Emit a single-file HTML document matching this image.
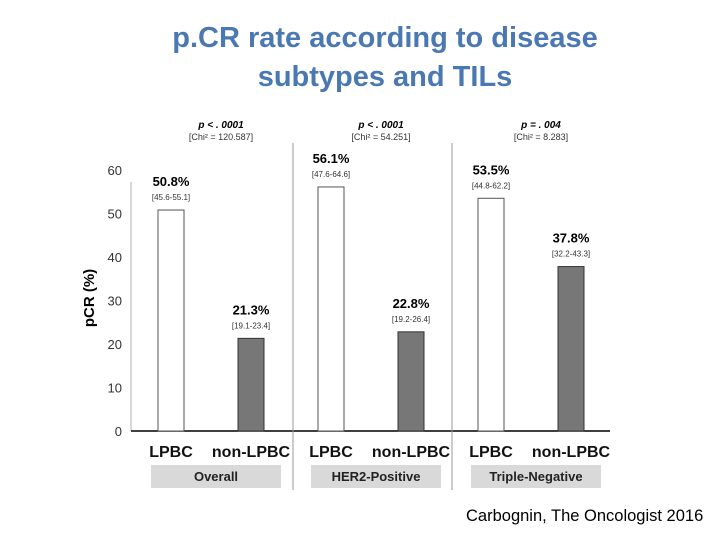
<!DOCTYPE html>
<html><head><meta charset="utf-8"><style>
body{margin:0;background:#fff;width:720px;height:540px;overflow:hidden;font-family:"Liberation Sans",sans-serif}
.t{position:absolute;left:0;width:770px;text-align:center;color:#4a78b2;font-size:29px;font-weight:bold;font-family:"Liberation Sans",sans-serif}
</style></head><body>
<div class="t" style="top:22px">p.CR rate according to disease<br><span style="line-height:44px">subtypes and TILs</span></div>
<svg id="c" width="720" height="540" style="position:absolute;left:0;top:0"></svg>
<div style="position:absolute;left:466px;top:507px;font-size:16.5px;color:#000">Carbognin, The Oncologist 2016</div>
<script>
const groups=["Overall","HER2-Positive","Triple-Negative"];
const cats=["LPBC","non-LPBC"];
const values=[50.8,21.3,56.1,22.8,53.5,37.8];
const cis=["[45.6-55.1]","[19.1-23.4]","[47.6-64.6]","[19.2-26.4]","[44.8-62.2]","[32.2-43.3]"];
const pvals=["p < . 0001","p < . 0001","p = . 004"];
const chis=["[Chi² = 120.587]","[Chi² = 54.251]","[Chi² = 8.283]"];
const yTicks=[0,10,20,30,40,50,60];
const svg=document.getElementById('c');const NS='http://www.w3.org/2000/svg';
function mk(t,a,txt){const e=document.createElementNS(NS,t);for(const k in a)e.setAttribute(k,a[k]);if(txt!=null)e.textContent=txt;svg.appendChild(e);return e;}
const y=v=>431-v*4.35;
const barX=i=>158+i*80;
let e=mk('line',{x1:131,y1:y(60)+12,x2:131,y2:431,stroke:'#ccc','stroke-width':1.5});

e=mk('line',{x1:131,y1:431,x2:610,y2:431,stroke:'#000','stroke-width':1.5});

yTicks.forEach(t=>{e=mk('text',{x:122,y:y(t)+5,'text-anchor':'end','font-size':13,fill:'#333'},t);
});
e=mk('text',{x:0,y:0,transform:'translate(94,298) rotate(-90)','text-anchor':'middle','font-size':15,'font-weight':'bold'},'pCR (%)');

[293,452].forEach(x=>{e=mk('line',{x1:x,y1:143,x2:x,y2:490,stroke:'#999','stroke-width':1});
});
values.forEach((v,i)=>{const x=barX(i),lp=i%2==0;
e=mk('rect',{x:x,y:y(v),width:26,height:431-y(v),fill:lp?'#fff':'#777',stroke:lp?'#555':'#333','stroke-width':1});

e=mk('text',{x:x+13,y:y(v)-24,'text-anchor':'middle','font-size':13,'font-weight':'bold'},v.toFixed(1)+'%');

e=mk('text',{x:x+13,y:y(v)-10,'text-anchor':'middle','font-size':8,fill:'#333'},cis[i]);

e=mk('text',{x:x+13,y:457,'text-anchor':'middle','font-size':16,'font-weight':'bold','fill':'#111'},cats[i%2]);
});
groups.forEach((g,j)=>{const cx=222+j*160;
e=mk('rect',{x:cx-71,y:465,width:130,height:23,fill:'#d9d9d9'});

e=mk('text',{x:cx-6,y:481,'text-anchor':'middle','font-size':13,'font-weight':'bold','fill':'#222'},g);

e=mk('text',{x:cx-1,y:128,'text-anchor':'middle','font-size':10,'font-weight':'bold','font-style':'italic'},pvals[j]);

e=mk('text',{x:cx-1,y:140,'text-anchor':'middle','font-size':9,fill:'#333'},chis[j]);
});
</script>
</body></html>
